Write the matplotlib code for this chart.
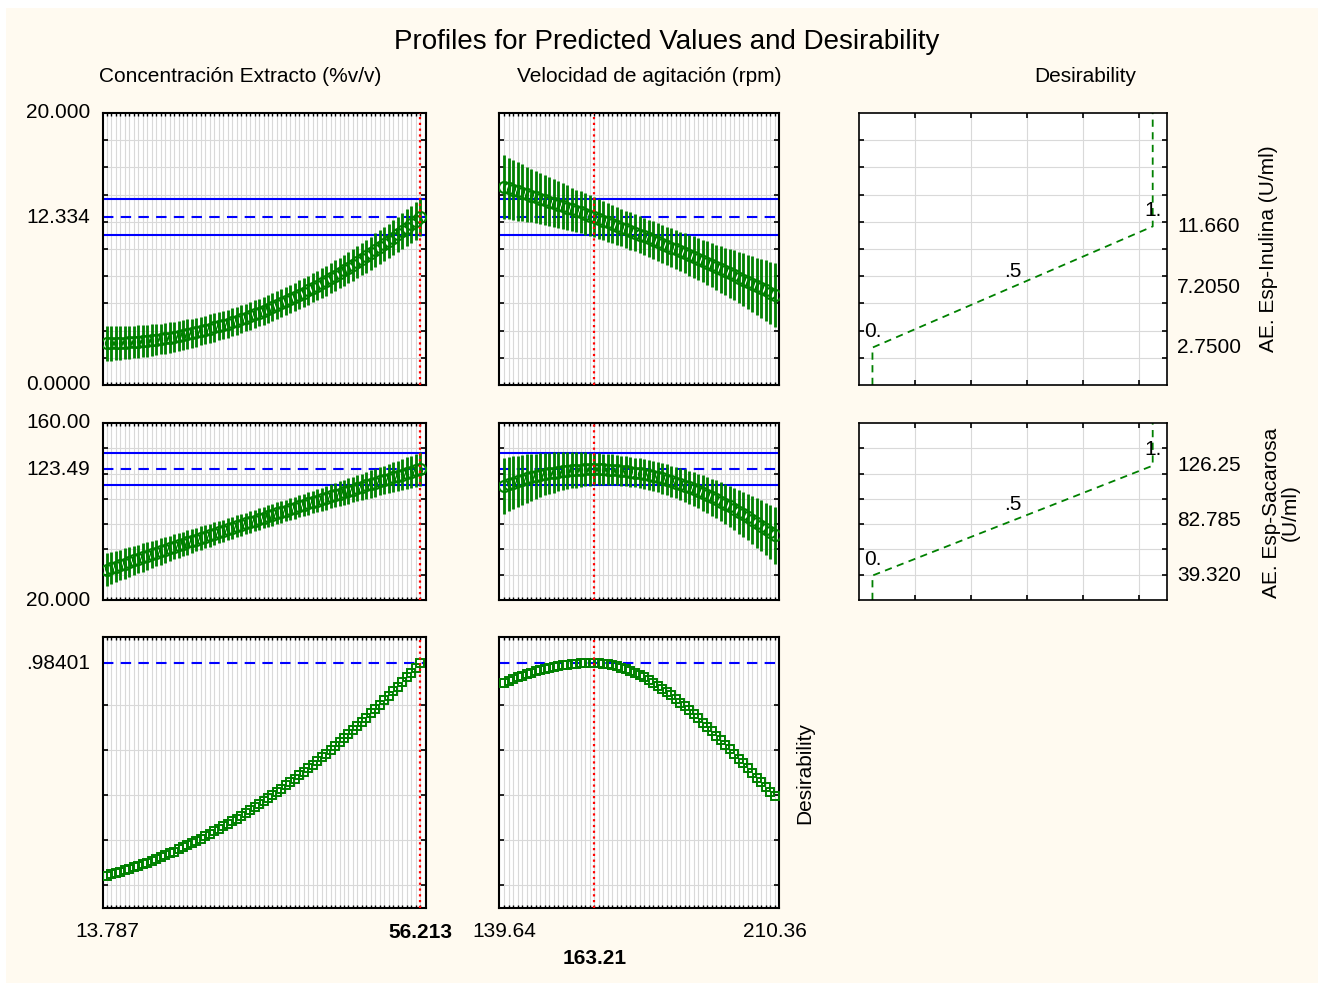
import numpy as np
import matplotlib
matplotlib.use('Agg')
import matplotlib.pyplot as plt
from matplotlib.patches import Rectangle
from matplotlib.transforms import blended_transform_factory

plt.rcParams['font.family'] = ['Liberation Sans', 'DejaVu Sans']

W, H = 1320, 983

# factor ranges and current settings
conc_min, conc_max, conc_cur = 13.787, 56.213, 56.213
vel_min, vel_max, vel_cur = 139.64, 210.36, 163.21

# AE. Esp-Inulina (U/ml) profile vs concentration
inulina_conc = [3.07, 3.08, 3.09, 3.10, 3.12, 3.14, 3.16, 3.19, 3.22, 3.26,
                3.30, 3.34, 3.38, 3.43, 3.49, 3.55, 3.61, 3.67, 3.74, 3.81,
                3.89, 3.97, 4.05, 4.14, 4.23, 4.32, 4.42, 4.52, 4.62, 4.73,
                4.84, 4.96, 5.08, 5.20, 5.33, 5.46, 5.59, 5.73, 5.87, 6.02,
                6.17, 6.32, 6.48, 6.64, 6.80, 6.97, 7.14, 7.31, 7.49, 7.67,
                7.86, 8.05, 8.24, 8.43, 8.63, 8.84, 9.04, 9.26, 9.47, 9.69,
                9.91, 10.14, 10.37, 10.60, 10.83, 11.07, 11.32, 11.57, 11.82, 12.07,
                12.334]
inulina_conc_err = [1.30, 1.28, 1.27, 1.25, 1.24, 1.22, 1.21, 1.19, 1.18, 1.17,
                    1.16, 1.14, 1.13, 1.12, 1.11, 1.10, 1.09, 1.09, 1.08, 1.07,
                    1.06, 1.06, 1.05, 1.05, 1.04, 1.04, 1.03, 1.03, 1.03, 1.03,
                    1.02, 1.02, 1.02, 1.02, 1.02, 1.03, 1.03, 1.03, 1.03, 1.04,
                    1.04, 1.04, 1.05, 1.05, 1.06, 1.07, 1.07, 1.08, 1.09, 1.10,
                    1.11, 1.12, 1.13, 1.14, 1.15, 1.16, 1.17, 1.18, 1.20, 1.21,
                    1.23, 1.24, 1.26, 1.27, 1.29, 1.31, 1.32, 1.34, 1.36, 1.38,
                    1.40]

# AE. Esp-Inulina (U/ml) profile vs agitation
inulina_vel = [14.55, 14.45, 14.35, 14.24, 14.14, 14.03, 13.93, 13.82, 13.71, 13.60,
               13.49, 13.38, 13.27, 13.15, 13.04, 12.92, 12.80, 12.69, 12.57, 12.45,
               12.334, 12.20, 12.08, 11.96, 11.83, 11.70, 11.58, 11.45, 11.32, 11.19,
               11.06, 10.92, 10.79, 10.66, 10.52, 10.38, 10.25, 10.11, 9.97, 9.83,
               9.69, 9.54, 9.40, 9.25, 9.11, 8.96, 8.81, 8.66, 8.51, 8.36,
               8.21, 8.06, 7.90, 7.75, 7.59, 7.43, 7.27, 7.11, 6.95, 6.79,
               6.63]
inulina_vel_err = [2.33, 2.27, 2.21, 2.15, 2.09, 2.03, 1.98, 1.93, 1.88, 1.84,
                   1.79, 1.75, 1.71, 1.67, 1.64, 1.60, 1.57, 1.54, 1.52, 1.49,
                   1.47, 1.45, 1.43, 1.42, 1.40, 1.39, 1.38, 1.37, 1.37, 1.36,
                   1.36, 1.36, 1.37, 1.37, 1.38, 1.39, 1.40, 1.42, 1.43, 1.45,
                   1.47, 1.49, 1.52, 1.54, 1.57, 1.60, 1.64, 1.67, 1.71, 1.75,
                   1.79, 1.84, 1.88, 1.93, 1.98, 2.03, 2.09, 2.15, 2.21, 2.27,
                   2.33]

# AE. Esp-Sacarosa (U/ml) profile vs concentration
sacarosa_conc = [44.00, 45.21, 46.42, 47.63, 48.84, 50.04, 51.25, 52.45, 53.64, 54.84,
                 56.03, 57.22, 58.41, 59.60, 60.78, 61.96, 63.14, 64.32, 65.49, 66.67,
                 67.84, 69.01, 70.17, 71.33, 72.50, 73.66, 74.81, 75.97, 77.12, 78.27,
                 79.42, 80.56, 81.71, 82.85, 83.99, 85.13, 86.26, 87.39, 88.52, 89.65,
                 90.78, 91.90, 93.02, 94.14, 95.26, 96.37, 97.48, 98.59, 99.70, 100.81,
                 101.91, 103.01, 104.11, 105.20, 106.30, 107.39, 108.48, 109.57, 110.65, 111.74,
                 112.82, 113.89, 114.97, 116.05, 117.12, 118.19, 119.25, 120.32, 121.38, 122.44,
                 123.49]
sacarosa_conc_err = [12.90, 12.65, 12.41, 12.17, 11.94, 11.72, 11.51, 11.30, 11.10, 10.91,
                     10.73, 10.55, 10.38, 10.22, 10.07, 9.92, 9.78, 9.65, 9.53, 9.41,
                     9.30, 9.20, 9.10, 9.02, 8.94, 8.86, 8.80, 8.74, 8.69, 8.65,
                     8.61, 8.59, 8.57, 8.55, 8.55, 8.55, 8.56, 8.58, 8.60, 8.63,
                     8.67, 8.72, 8.77, 8.83, 8.90, 8.98, 9.06, 9.15, 9.25, 9.36,
                     9.47, 9.59, 9.72, 9.86, 10.00, 10.15, 10.31, 10.47, 10.65, 10.83,
                     11.01, 11.21, 11.41, 11.62, 11.84, 12.06, 12.30, 12.54, 12.78, 13.04,
                     13.30]

# AE. Esp-Sacarosa (U/ml) profile vs agitation
sacarosa_vel = [110.38, 111.66, 112.87, 114.02, 115.10, 116.11, 117.07, 117.95, 118.77, 119.52,
                120.21, 120.83, 121.39, 121.88, 122.31, 122.67, 122.97, 123.19, 123.36, 123.46,
                123.49, 123.46, 123.36, 123.19, 122.97, 122.67, 122.31, 121.88, 121.39, 120.83,
                120.21, 119.52, 118.77, 117.95, 117.07, 116.11, 115.10, 114.02, 112.87, 111.66,
                110.38, 109.03, 107.63, 106.15, 104.61, 103.00, 101.33, 99.59, 97.79, 95.92,
                93.99, 91.99, 89.93, 87.79, 85.60, 83.34, 81.01, 78.62, 76.16, 73.64,
                71.05]
sacarosa_vel_err = [22.20, 21.51, 20.85, 20.21, 19.59, 19.00, 18.43, 17.88, 17.36, 16.86,
                    16.38, 15.93, 15.50, 15.09, 14.70, 14.34, 14.01, 13.69, 13.40, 13.13,
                    12.89, 12.67, 12.47, 12.30, 12.14, 12.02, 11.91, 11.83, 11.77, 11.74,
                    11.73, 11.74, 11.77, 11.83, 11.91, 12.02, 12.14, 12.30, 12.47, 12.67,
                    12.89, 13.13, 13.40, 13.69, 14.01, 14.34, 14.70, 15.09, 15.50, 15.93,
                    16.38, 16.86, 17.36, 17.88, 18.43, 19.00, 19.59, 20.21, 20.85, 21.51,
                    22.20]

# overall desirability profiles
desir_conc = [0.2780, 0.2821, 0.2864, 0.2909, 0.2955, 0.3003, 0.3053, 0.3104, 0.3157, 0.3213,
              0.3270, 0.3328, 0.3388, 0.3450, 0.3514, 0.3579, 0.3647, 0.3715, 0.3785, 0.3857,
              0.3932, 0.4008, 0.4085, 0.4165, 0.4245, 0.4328, 0.4412, 0.4499, 0.4586, 0.4676,
              0.4768, 0.4861, 0.4955, 0.5051, 0.5150, 0.5250, 0.5351, 0.5456, 0.5560, 0.5667,
              0.5775, 0.5887, 0.5998, 0.6112, 0.6228, 0.6345, 0.6464, 0.6584, 0.6708, 0.6832,
              0.6957, 0.7086, 0.7215, 0.7346, 0.7478, 0.7614, 0.7750, 0.7887, 0.8028, 0.8170,
              0.8312, 0.8457, 0.8604, 0.8752, 0.8902, 0.9055, 0.9208, 0.9363, 0.9520, 0.9680,
              0.98401]
desir_vel = [0.9180, 0.9244, 0.9305, 0.9363, 0.9418, 0.9469, 0.9517, 0.9561, 0.9602, 0.9640,
             0.9675, 0.9706, 0.9734, 0.9759, 0.9781, 0.9799, 0.9814, 0.9825, 0.9833, 0.9838,
             0.98401, 0.9836, 0.9823, 0.9801, 0.9772, 0.9734, 0.9689, 0.9637, 0.9577, 0.9511,
             0.9438, 0.9359, 0.9273, 0.9182, 0.9085, 0.8983, 0.8875, 0.8763, 0.8646, 0.8524,
             0.8399, 0.8270, 0.8137, 0.8000, 0.7861, 0.7719, 0.7574, 0.7426, 0.7277, 0.7125,
             0.6973, 0.6818, 0.6663, 0.6507, 0.6350, 0.6192, 0.6035, 0.5878, 0.5721, 0.5564,
             0.5409]

# predicted values at current settings and confidence limits
inulina_pred, inulina_ci = 12.334, (11.04, 13.67)
sacarosa_pred, sacarosa_ci = 123.49, (111.2, 136.4)
desir_pred = 0.98401

# desirability function definitions (response value at d = 0, .5, 1)
desir_marks = [0.0, 0.5, 1.0]
desir_mark_labels = ['0.', '.5', '1.']
inulina_levels = [2.75, 7.205, 11.66]
sacarosa_levels = [39.32, 82.785, 126.25]

# axis ranges
inulina_ylim, inulina_grid = (0.0, 20.0), [2, 4, 6, 8, 10, 12, 14, 16, 18]
sacarosa_ylim, sacarosa_grid = (20.0, 160.0), [40, 60, 80, 100, 120, 140]
desir_ylim, desir_grid = (0.1704, 1.0704), [0.2454, 0.3954, 0.5454, 0.6954, 0.8454]
conc_xlim = (13.245, 57.026)
vel_xlim = (138.335, 211.404)
dfun_xlim, dfun_grid = (-0.048, 1.051), [0.152, 0.352, 0.552, 0.752, 0.952]

GREEN = '#008000'
BLUE = '#0000ff'
GRID = '#d9d9d9'
FS = 15


def fmt(v):
    s = f'{v:#.5g}'
    if s.startswith('0.') and v != 0:
        s = s[1:]
    return s


def ax_at(fig, x0, y0, x1, y1):
    return fig.add_axes([x0 / W, 1 - y1 / H, (x1 - x0) / W, (y1 - y0) / H])


def style_frame(ax, xt, yt, lw=1.5):
    ax.set_xticks(xt)
    ax.set_yticks(yt)
    ax.grid(True, color=GRID, lw=0.8)
    ax.set_axisbelow(True)
    ax.tick_params(axis='x', direction='in', top=True, bottom=True, length=2.4,
                   width=1.0, labelbottom=False)
    ax.tick_params(axis='y', direction='in', left=True, right=True, length=3.6,
                   width=1.2, labelleft=False)
    for s in ax.spines.values():
        s.set_linewidth(lw)


def profile(fig, box, x, y, err, xlim, ylim, ygrid, cur, pred, ci, marker):
    ax = ax_at(fig, *box)
    ax.set_xlim(xlim)
    ax.set_ylim(ylim)
    style_frame(ax, x, ygrid)
    if ci is not None:
        for c in ci:
            ax.axhline(c, color=BLUE, lw=1.5, zorder=2)
    ax.axhline(pred, color=BLUE, lw=1.5, ls=(0, (5, 3.5)), zorder=2)
    if err is not None:
        ax.errorbar(x, y, yerr=err, fmt='none', ecolor=GREEN, elinewidth=2.0, zorder=3)
        ax.plot(x, y, ls='none', marker=marker, ms=8.0, mfc='none', mec=GREEN, mew=1.5, zorder=4)
    else:
        ax.plot(x, y, ls='none', marker=marker, ms=6.4, mfc='none', mec=GREEN, mew=1.4, zorder=4)
    ax.axvline(cur, color='red', lw=1.6, ls=(0, (1, 1.6)), zorder=5)
    return ax


def desir_fun(fig, box, levels, ylim, ygrid):
    ax = ax_at(fig, *box)
    ax.set_xlim(dfun_xlim)
    ax.set_ylim(ylim)
    style_frame(ax, dfun_grid, ygrid, lw=1.2)
    ax.tick_params(axis='x', length=3.6, width=1.2)
    xs = [desir_marks[0]] + desir_marks + [desir_marks[-1]]
    ys = [ylim[0]] + levels + [ylim[1]]
    ax.plot(xs, ys, color=GREEN, lw=1.3, ls=(0, (4, 3)))
    for d, v, t in zip(desir_marks, levels, desir_mark_labels):
        ax.annotate(t, xy=(d, v), xytext=(0, 4.5), textcoords='offset points',
                    ha='center', va='bottom', fontsize=FS, annotation_clip=False)
    tr = blended_transform_factory(ax.transAxes, ax.transData)
    for v in levels:
        ax.annotate(fmt(v), xy=(1, v), xycoords=tr, xytext=(7.2, 0),
                    textcoords='offset points', ha='left', va='center',
                    fontsize=FS, annotation_clip=False)
    return ax


def left_labels(ax, values):
    tr = blended_transform_factory(ax.transAxes, ax.transData)
    for v in values:
        ax.annotate(fmt(v), xy=(0, v), xycoords=tr, xytext=(-9, 0),
                    textcoords='offset points', ha='right', va='center',
                    fontsize=FS, annotation_clip=False)


def bottom_label(ax, v, dy, bold=False):
    tr = blended_transform_factory(ax.transData, ax.transAxes)
    ax.annotate(fmt(v), xy=(v, 0), xycoords=tr, xytext=(0, -dy),
                textcoords='offset points', ha='center', va='center', fontsize=FS,
                fontweight='bold' if bold else 'normal', annotation_clip=False)


fig = plt.figure(figsize=(W / 100, H / 100), dpi=100)
fig.patch.set_facecolor('white')
fig.add_artist(Rectangle((6 / W, 0), (1318 - 6) / W, 1 - 8 / H, transform=fig.transFigure,
                         facecolor='#fffaf0', edgecolor='none', zorder=-10))

x_conc = np.linspace(conc_min, conc_max, len(inulina_conc))
x_vel = np.linspace(vel_min, vel_max, len(inulina_vel))

col1 = (103, 426)
col2 = (499, 779)
col3 = (859, 1167)
row1 = (113, 385)
row2 = (423, 600)
row3 = (637, 908)

a = profile(fig, (col1[0], row1[0], col1[1], row1[1]), x_conc, inulina_conc, inulina_conc_err,
            conc_xlim, inulina_ylim, inulina_grid, conc_cur, inulina_pred, inulina_ci, 'o')
left_labels(a, [inulina_ylim[1], inulina_pred, inulina_ylim[0]])
profile(fig, (col2[0], row1[0], col2[1], row1[1]), x_vel, inulina_vel, inulina_vel_err,
        vel_xlim, inulina_ylim, inulina_grid, vel_cur, inulina_pred, inulina_ci, 'o')
desir_fun(fig, (col3[0], row1[0], col3[1], row1[1]), inulina_levels, inulina_ylim, inulina_grid)

d = profile(fig, (col1[0], row2[0], col1[1], row2[1]), x_conc, sacarosa_conc, sacarosa_conc_err,
            conc_xlim, sacarosa_ylim, sacarosa_grid, conc_cur, sacarosa_pred, sacarosa_ci, 'o')
left_labels(d, [sacarosa_ylim[1], sacarosa_pred, sacarosa_ylim[0]])
profile(fig, (col2[0], row2[0], col2[1], row2[1]), x_vel, sacarosa_vel, sacarosa_vel_err,
        vel_xlim, sacarosa_ylim, sacarosa_grid, vel_cur, sacarosa_pred, sacarosa_ci, 'o')
desir_fun(fig, (col3[0], row2[0], col3[1], row2[1]), sacarosa_levels, sacarosa_ylim, sacarosa_grid)

g = profile(fig, (col1[0], row3[0], col1[1], row3[1]), x_conc, desir_conc, None,
            conc_xlim, desir_ylim, desir_grid, conc_cur, desir_pred, None, 's')
left_labels(g, [desir_pred])
h = profile(fig, (col2[0], row3[0], col2[1], row3[1]), x_vel, desir_vel, None,
            vel_xlim, desir_ylim, desir_grid, vel_cur, desir_pred, None, 's')

bottom_label(g, conc_min, 16.6)
bottom_label(g, conc_cur, 18.0, bold=True)
bottom_label(h, vel_min, 16.6)
bottom_label(h, vel_max, 16.6)
bottom_label(h, vel_cur, 36.0, bold=True)

fig.text(667 / W, 1 - 42 / H, 'Profiles for Predicted Values and Desirability',
         ha='center', va='center', fontsize=20)
fig.text(240 / W, 1 - 76 / H, 'Concentración Extracto (%v/v)', ha='center', va='center', fontsize=FS)
fig.text(649 / W, 1 - 76 / H, 'Velocidad de agitación (rpm)', ha='center', va='center', fontsize=FS)
fig.text(1085 / W, 1 - 76 / H, 'Desirability', ha='center', va='center', fontsize=FS)

fig.text(1268 / W, 1 - 249 / H, 'AE. Esp-Inulina (U/ml)', rotation=90,
         ha='center', va='center', fontsize=FS)
fig.text(1281 / W, 1 - 513 / H, 'AE. Esp-Sacarosa\n(U/ml)', rotation=90,
         ha='center', va='center', fontsize=FS, multialignment='center', linespacing=1.0)
fig.text(805 / W, 1 - 773 / H, 'Desirability', rotation=90,
         ha='center', va='center', fontsize=FS)

fig.savefig('out.png', dpi=100, facecolor=fig.get_facecolor())
